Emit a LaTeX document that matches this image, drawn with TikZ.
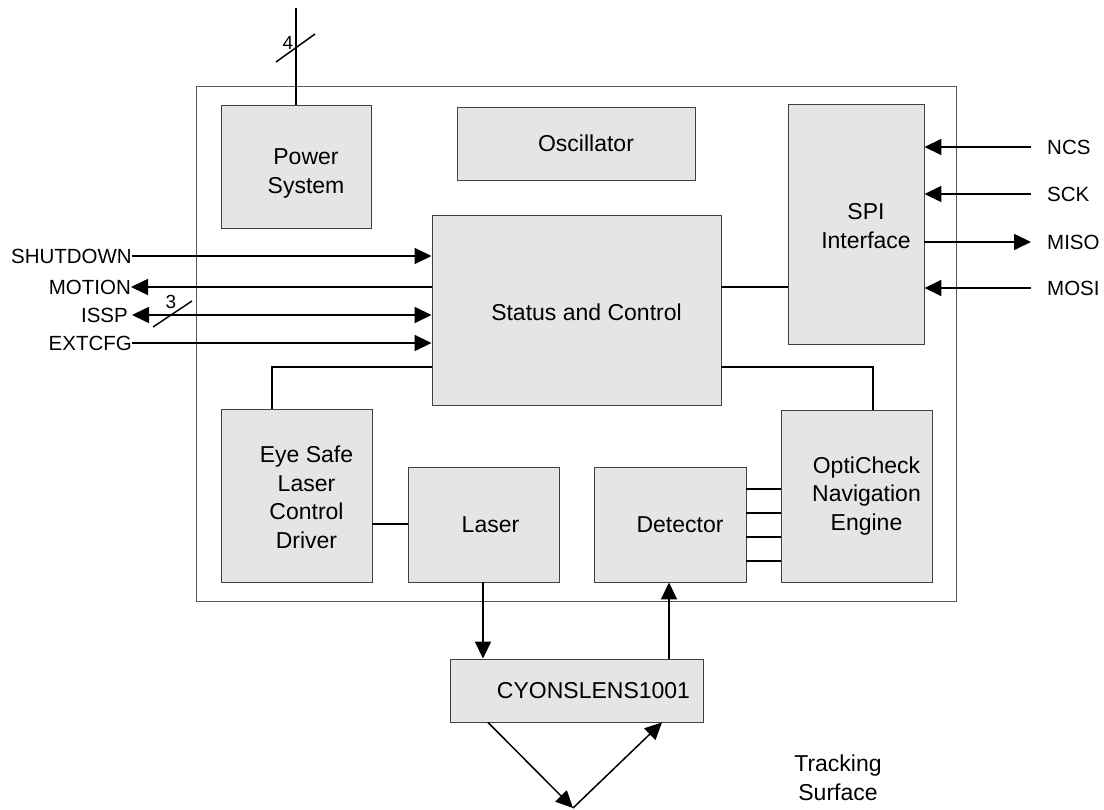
\documentclass[tikz,border=0pt]{standalone}
\usepackage{fontspec}
\setmainfont{Liberation Sans}
\usetikzlibrary{arrows.meta}
\tikzset{
  blk/.style={draw=black!75, fill=black!10, line width=0.9pt, inner sep=0pt},
  txt/.style={font=\fontsize{23}{28.5}\selectfont, align=center},
  inbox/.style={txt, xshift=10pt},
  sig/.style={font=\fontsize{20.5}{24}\selectfont, inner sep=0pt},
  busw/.style={font=\fontsize{19}{22}\selectfont, inner sep=0pt},
  wire/.style={black, line width=1.7pt},
  arr/.style={-{Triangle[length=17pt,width=16pt]}},
  darr/.style={{Triangle[length=17pt,width=16pt]}-{Triangle[length=17pt,width=16pt]}},
}
\begin{document}
\begin{tikzpicture}[x=1pt, y=-1pt]
\useasboundingbox (0,0) rectangle (1104,810);
% chip outline
\draw[black!65, line width=0.9pt] (196,86) rectangle (956,601);
% blocks
\node[blk, minimum width=150pt, minimum height=123pt, label={[inbox, yshift=-7pt]center:Power\\System}] (pwr) at (296,166.5) {};
\node[blk, minimum width=238pt, minimum height=73pt, label={[inbox]center:Oscillator}] (osc) at (576,143.5) {};
\node[blk, minimum width=136pt, minimum height=240pt, label={[inbox, yshift=-2pt]center:SPI\\Interface}] (spi) at (856,224) {};
\node[blk, minimum width=289pt, minimum height=190pt, label={[inbox, yshift=-2pt]center:Status and Control}] (stat) at (576.5,310) {};
\node[blk, minimum width=151pt, minimum height=173pt, label={[inbox, yshift=-2pt]center:Eye Safe\\Laser\\Control\\Driver}] (eye) at (296.5,495.5) {};
\node[blk, minimum width=151pt, minimum height=115pt, label={[inbox, xshift=-3pt]center:Laser}] (laser) at (483.5,524.5) {};
\node[blk, minimum width=152pt, minimum height=115pt, label={[inbox]center:Detector}] (det) at (670,524.5) {};
\node[blk, minimum width=151pt, minimum height=172pt, label={[inbox]center:OptiCheck\\Navigation\\Engine}] (opti) at (856.5,496) {};
\node[blk, minimum width=253pt, minimum height=63pt, label={[inbox, xshift=7pt]center:CYONSLENS1001}] (lens) at (576.5,690.5) {};
%
% left side signals
\node[sig, anchor=east] (shdn) at (132,256) {SHUTDOWN};
\node[sig, anchor=east] (motn) at (131,287) {MOTION};
\node[sig, anchor=east] (issp) at (128,315) {ISSP};
\node[sig, anchor=east] (xcfg) at (132,343) {EXTCFG};
\draw[wire, arr] (shdn.east) -- (shdn.east -| stat.west);
\draw[wire, arr] (motn.east -| stat.west) -- (motn.east);
\draw[wire, darr] ([xshift=4pt]issp.east) -- (issp.east -| stat.west);
\draw[wire, arr] (xcfg.east) -- (xcfg.east -| stat.west);
\draw[line width=1.5pt] (153,327) -- (192,301);
\node[busw] (bus3) at (171,302) {3};
%
% spi signals
\node[sig, anchor=west] (ncs) at (1047,147) {NCS};
\node[sig, anchor=west] (sck) at (1047,194) {SCK};
\node[sig, anchor=west] (miso) at (1047,242) {MISO};
\node[sig, anchor=west] (mosi) at (1047,288) {MOSI};
\draw[wire, arr] ([xshift=-16pt]ncs.west) -- (ncs.west -| spi.east);
\draw[wire, arr] ([xshift=-16pt]sck.west) -- (sck.west -| spi.east);
\draw[wire, arr] (miso.west -| spi.east) -- ([xshift=-16pt]miso.west);
\draw[wire, arr] ([xshift=-16pt]mosi.west) -- (mosi.west -| spi.east);
%
% power input
\coordinate (vin) at (296,8);
\draw[wire] (vin) -- (pwr.north);
\draw[line width=1.5pt] (276,62) -- (315,34);
\node[busw] (bus4) at (288,43) {4};
%
% internal wiring
\draw[wire] (stat.east |- 0,287) -- (spi.west |- 0,287);
\draw[wire] (stat.west |- 0,367) -| (eye.north -| 272,0);
\draw[wire] (stat.east |- 0,367) -| (opti.north -| 873,0);
\draw[wire] (eye.east |- 0,524) -- (laser.west |- 0,524);
\foreach \y in {489,513,537,561}
  \draw[wire] (det.east |- 0,\y) -- (opti.west |- 0,\y);
%
% optical path
\draw[wire, arr] (laser.south -| 483,0) -- (lens.north -| 483,0);
\draw[wire, arr] (lens.north -| 669,0) -- (det.south -| 669,0);
\coordinate (surf) at (573,808);
\draw[wire, line width=1.5pt, arr] (lens.south -| 488,0) -- (surf);
\draw[wire, line width=1.5pt, arr] (surf) -- (lens.south -| 662,0);
\node[txt] (trk) at (838,778) {Tracking\\Surface};
\end{tikzpicture}
\end{document}
